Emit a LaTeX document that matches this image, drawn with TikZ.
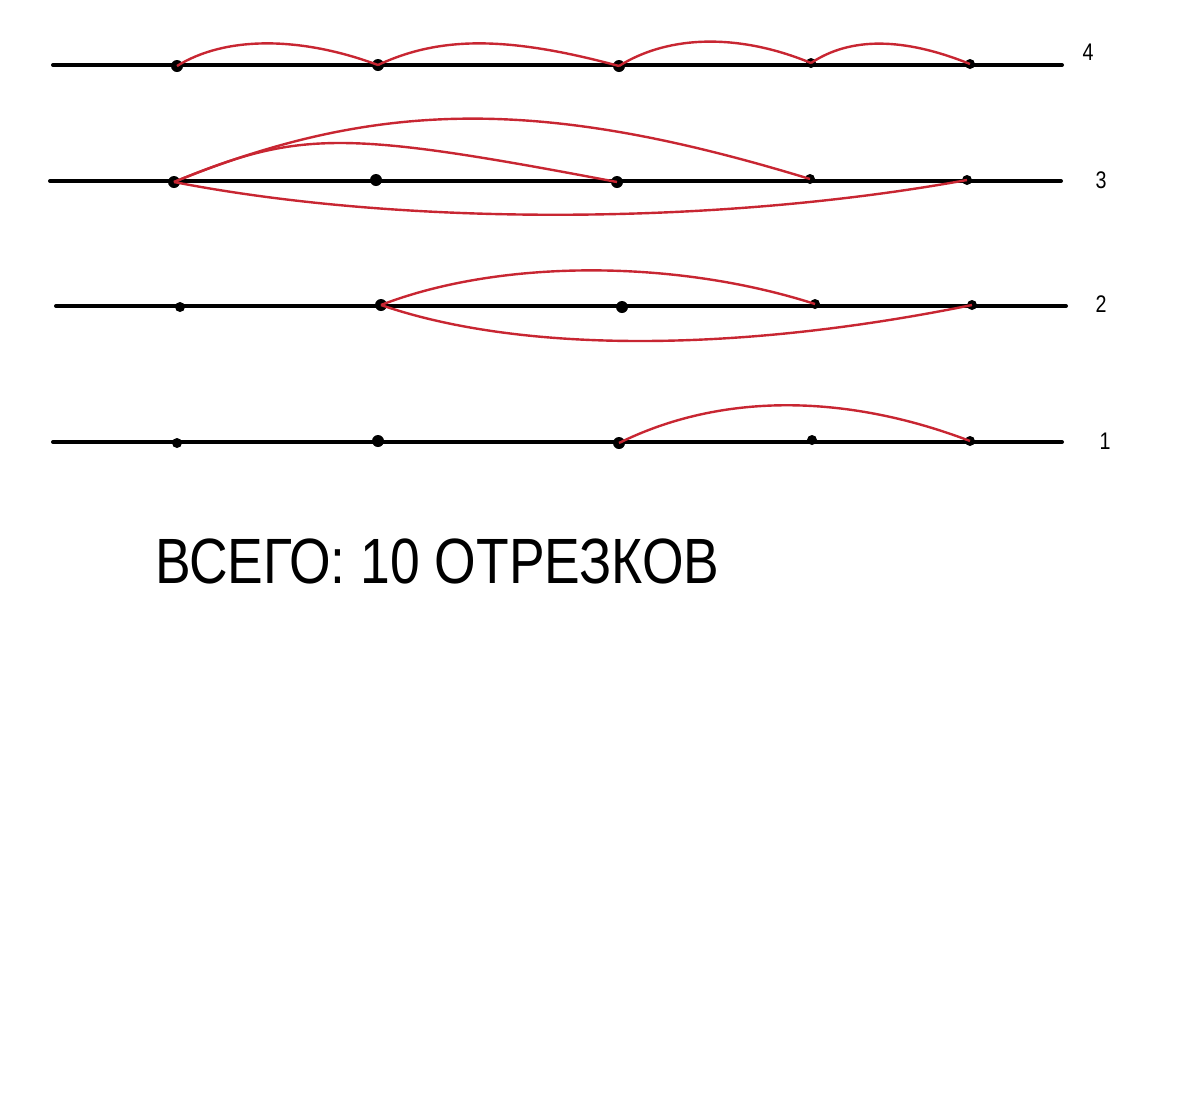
\documentclass[tikz,border=0pt]{standalone}
\usepackage{fontspec}
\setmainfont{Liberation Sans}
\definecolor{arcred}{RGB}{200,38,50}
\begin{document}
\begin{tikzpicture}[x=1pt,y=-1pt,
  axis/.style={line width=4pt,line cap=round,black},
  dot/.style={circle,fill=black,inner sep=0pt,minimum size=12pt},
  sdot/.style={circle,fill=black,inner sep=0pt,minimum size=10pt},
  arc/.style={line width=2.4pt,arcred},
  num/.style={inner sep=0pt,font=\fontsize{24}{26}\selectfont},
  title/.style={inner sep=0pt,anchor=base west,font=\fontsize{64}{70}\selectfont}]
\useasboundingbox[fill=white] (0,0) rectangle (1186,1096);
% row 4
\coordinate (l4a) at (53,65); \coordinate (l4b) at (1062,65);
\draw[axis] (l4a) -- (l4b);
\node[dot] (p41) at (177,66) {};
\node[dot] (p42) at (378,65) {};
\node[dot] (p43) at (619,66) {};
\node[sdot] (p44) at (811,63) {};
\node[sdot] (p45) at (970,64) {};
\draw[arc] (p41.center) .. controls (225,36) and (300,36) .. (p42.center);
\draw[arc] (p42.center) .. controls (440,36) and (508,36) .. (p43.center);
\draw[arc] (p43.center) .. controls (670,34) and (741,34) .. (p44.center);
\draw[arc] (p44.center) .. controls (850,37) and (903,37) .. (p45.center);
\node[num] (n4) at (1088,52) {\scalebox{0.82}[1]{4}};
% row 3
\coordinate (l3a) at (50,181); \coordinate (l3b) at (1061,181);
\draw[axis] (l3a) -- (l3b);
\node[dot] (p31) at (174,182) {};
\node[dot] (p32) at (376,180) {};
\node[dot] (p33) at (617,182) {};
\node[sdot] (p34) at (810,179) {};
\node[sdot] (p35) at (967,180) {};
\draw[arc] (p31.center) .. controls (300,130) and (343,130) .. (p33.center);
\draw[arc] (p31.center) .. controls (380,98) and (545,98) .. (p34.center);
\draw[arc] (p31.center) .. controls (400,226) and (713,226) .. (p35.center);
\node[num] (n3) at (1101,180) {\scalebox{0.82}[1]{3}};
% row 2
\coordinate (l2a) at (56,306); \coordinate (l2b) at (1066,306);
\draw[axis] (l2a) -- (l2b);
\node[sdot] (p21) at (180,307) {};
\node[dot] (p22) at (381,305) {};
\node[dot] (p23) at (622,307) {};
\node[sdot] (p24) at (815,304) {};
\node[sdot] (p25) at (972,305) {};
\draw[arc] (p22.center) .. controls (500,259) and (675,259) .. (p24.center);
\draw[arc] (p22.center) .. controls (520,353) and (736,353) .. (p25.center);
\node[num] (n2) at (1101,304) {\scalebox{0.82}[1]{2}};
% row 1
\coordinate (l1a) at (53,442); \coordinate (l1b) at (1062,442);
\draw[axis] (l1a) -- (l1b);
\node[sdot] (p11) at (177,443) {};
\node[dot] (p12) at (378,441) {};
\node[dot] (p13) at (619,443) {};
\node[sdot] (p14) at (812,440) {};
\node[sdot] (p15) at (970,441) {};
\draw[arc] (p13.center) .. controls (720,393) and (844,393) .. (p15.center);
\node[num] (n1) at (1105,441) {\scalebox{0.82}[1]{1}};
% total
\node[title] (total) at (155,583) {\scalebox{0.835}[1]{ВСЕГО: 10 ОТРЕЗКОВ}};
\end{tikzpicture}
\end{document}
